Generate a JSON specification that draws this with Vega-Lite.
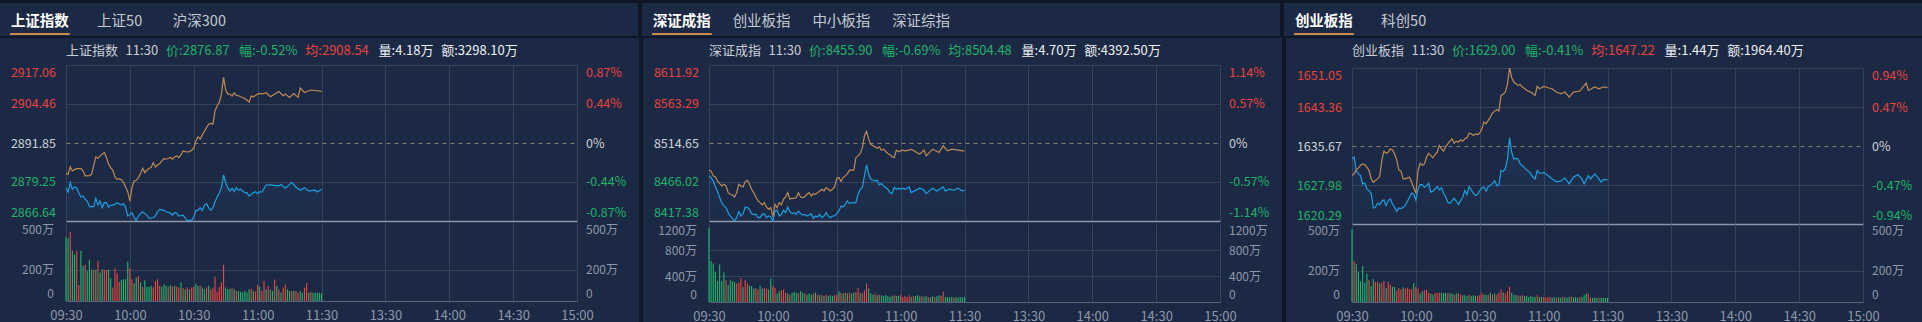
{
"$schema":"https://vega.github.io/schema/vega-lite/v6.json",
"background":"#1c2944","padding":0,
"config":{"view":{"stroke":null},"font":"Noto Sans CJK SC","concat":{"spacing":0},"axis":{"labelFont":"Noto Sans CJK SC"}},
"datasets":{
"none":[],
"t1":[{"tab":"上证指数","on":1},{"tab":"上证50","on":0},{"tab":"沪深300","on":0}],
"t2":[{"tab":"深证成指","on":1},{"tab":"创业板指","on":0},{"tab":"中小板指","on":0},{"tab":"深证综指","on":0}],
"t3":[{"tab":"创业板指","on":1},{"tab":"科创50","on":0}],
"i1":[{"k":"name","t":"上证指数","c":"n"},{"k":"time","t":"11:30","c":"n"},{"k":"price","t":"价:2876.87","c":"d"},{"k":"chg","t":"幅:-0.52%","c":"d"},{"k":"avg","t":"均:2908.54","c":"u"},{"k":"vol","t":"量:4.18万","c":"w"},{"k":"amt","t":"额:3298.10万","c":"w"}],
"i2":[{"k":"name","t":"深证成指","c":"n"},{"k":"time","t":"11:30","c":"n"},{"k":"price","t":"价:8455.90","c":"d"},{"k":"chg","t":"幅:-0.69%","c":"d"},{"k":"avg","t":"均:8504.48","c":"d"},{"k":"vol","t":"量:4.70万","c":"w"},{"k":"amt","t":"额:4392.50万","c":"w"}],
"i3":[{"k":"name","t":"创业板指","c":"n"},{"k":"time","t":"11:30","c":"n"},{"k":"price","t":"价:1629.00","c":"d"},{"k":"chg","t":"幅:-0.41%","c":"d"},{"k":"avg","t":"均:1647.22","c":"u"},{"k":"vol","t":"量:1.44万","c":"w"},{"k":"amt","t":"额:1964.40万","c":"w"}],
"p1":[{"m":0,"v":2877.42},{"m":1,"v":2876.02},{"m":2,"v":2879.04},{"m":3,"v":2876.88},{"m":4,"v":2877.64},{"m":5,"v":2877.42},{"m":6,"v":2875.8},{"m":7,"v":2874.4},{"m":8,"v":2874.72},{"m":9,"v":2873.64},{"m":10,"v":2873.1},{"m":11,"v":2871.26},{"m":12,"v":2871.26},{"m":13,"v":2871.26},{"m":14,"v":2873.96},{"m":15,"v":2871.8},{"m":16,"v":2873.1},{"m":17,"v":2870.94},{"m":18,"v":2872.56},{"m":19,"v":2872.56},{"m":20,"v":2871.16},{"m":21,"v":2871.7},{"m":23,"v":2872.02},{"m":24,"v":2872.56},{"m":26,"v":2871.8},{"m":27,"v":2872.24},{"m":28,"v":2871.16},{"m":29,"v":2868.24},{"m":30,"v":2868.78},{"m":31,"v":2869.32},{"m":32,"v":2867.7},{"m":33,"v":2866.84},{"m":34,"v":2868.24},{"m":35,"v":2869.0},{"m":36,"v":2869.64},{"m":38,"v":2868.56},{"m":39,"v":2867.48},{"m":41,"v":2867.7},{"m":42,"v":2868.24},{"m":43,"v":2869.64},{"m":44,"v":2870.4},{"m":46,"v":2870.08},{"m":47,"v":2869.64},{"m":49,"v":2869.21},{"m":50,"v":2868.56},{"m":51,"v":2869.32},{"m":52,"v":2869.21},{"m":53,"v":2868.24},{"m":55,"v":2868.56},{"m":56,"v":2867.48},{"m":57,"v":2866.84},{"m":58,"v":2866.84},{"m":59,"v":2866.84},{"m":60,"v":2867.92},{"m":61,"v":2870.08},{"m":62,"v":2870.08},{"m":63,"v":2870.94},{"m":64,"v":2870.08},{"m":65,"v":2871.8},{"m":66,"v":2872.24},{"m":67,"v":2870.94},{"m":68,"v":2870.08},{"m":69,"v":2870.94},{"m":70,"v":2872.88},{"m":71,"v":2874.4},{"m":72,"v":2875.8},{"m":73,"v":2877.42},{"m":74,"v":2881.52},{"m":75,"v":2879.04},{"m":76,"v":2877.42},{"m":77,"v":2876.34},{"m":78,"v":2877.2},{"m":79,"v":2876.12},{"m":80,"v":2877.42},{"m":81,"v":2876.56},{"m":82,"v":2876.88},{"m":83,"v":2876.34},{"m":84,"v":2875.8},{"m":85,"v":2875.8},{"m":86,"v":2874.72},{"m":87,"v":2875.26},{"m":88,"v":2875.8},{"m":89,"v":2876.12},{"m":90,"v":2875.48},{"m":91,"v":2876.12},{"m":92,"v":2876.02},{"m":94,"v":2878.28},{"m":96,"v":2878.3},{"m":100,"v":2877.98},{"m":101,"v":2878.53},{"m":103,"v":2877.23},{"m":106,"v":2879.05},{"m":108,"v":2877.65},{"m":110,"v":2876.58},{"m":112,"v":2877.43},{"m":114,"v":2876.36},{"m":117,"v":2876.58},{"m":118,"v":2876.03},{"m":120,"v":2876.87}],
"a1":[{"m":0,"v":2881.96},{"m":1,"v":2881.74},{"m":2,"v":2884.12},{"m":3,"v":2882.82},{"m":4,"v":2883.25},{"m":5,"v":2883.58},{"m":7,"v":2883.58},{"m":8,"v":2882.82},{"m":9,"v":2881.2},{"m":11,"v":2881.31},{"m":12,"v":2881.74},{"m":14,"v":2887.36},{"m":15,"v":2886.92},{"m":16,"v":2887.68},{"m":18,"v":2888.76},{"m":19,"v":2887.14},{"m":20,"v":2884.98},{"m":21,"v":2883.9},{"m":22,"v":2883.04},{"m":23,"v":2880.88},{"m":24,"v":2880.12},{"m":25,"v":2880.34},{"m":26,"v":2880.01},{"m":27,"v":2879.04},{"m":28,"v":2877.64},{"m":29,"v":2876.12},{"m":30,"v":2873.1},{"m":31,"v":2877.42},{"m":32,"v":2879.58},{"m":33,"v":2879.8},{"m":34,"v":2880.66},{"m":35,"v":2881.96},{"m":36,"v":2883.68},{"m":37,"v":2882.28},{"m":38,"v":2883.04},{"m":39,"v":2883.68},{"m":40,"v":2883.9},{"m":41,"v":2885.52},{"m":42,"v":2884.12},{"m":43,"v":2884.76},{"m":44,"v":2885.2},{"m":45,"v":2886.06},{"m":46,"v":2886.82},{"m":47,"v":2886.6},{"m":48,"v":2886.82},{"m":49,"v":2887.14},{"m":50,"v":2886.6},{"m":51,"v":2887.36},{"m":52,"v":2887.68},{"m":53,"v":2887.14},{"m":54,"v":2888.0},{"m":55,"v":2889.3},{"m":56,"v":2889.08},{"m":57,"v":2888.98},{"m":58,"v":2889.08},{"m":59,"v":2889.52},{"m":60,"v":2890.16},{"m":61,"v":2892.54},{"m":62,"v":2893.84},{"m":63,"v":2893.08},{"m":64,"v":2894.48},{"m":65,"v":2895.56},{"m":66,"v":2896.86},{"m":67,"v":2897.94},{"m":68,"v":2898.16},{"m":69,"v":2897.94},{"m":70,"v":2902.26},{"m":71,"v":2903.88},{"m":72,"v":2904.96},{"m":73,"v":2907.66},{"m":74,"v":2913.06},{"m":75,"v":2908.96},{"m":76,"v":2907.66},{"m":77,"v":2907.66},{"m":78,"v":2907.01},{"m":79,"v":2908.09},{"m":80,"v":2907.23},{"m":81,"v":2907.12},{"m":82,"v":2906.8},{"m":83,"v":2906.58},{"m":84,"v":2906.15},{"m":85,"v":2905.72},{"m":86,"v":2905.07},{"m":87,"v":2907.01},{"m":88,"v":2906.8},{"m":89,"v":2907.23},{"m":90,"v":2907.66},{"m":91,"v":2907.88},{"m":92,"v":2907.66},{"m":94,"v":2908.09},{"m":96,"v":2906.8},{"m":100,"v":2908.51},{"m":102,"v":2907.12},{"m":103,"v":2907.67},{"m":105,"v":2906.57},{"m":107,"v":2907.86},{"m":109,"v":2906.57},{"m":110,"v":2909.61},{"m":112,"v":2908.19},{"m":115,"v":2908.97},{"m":118,"v":2908.74},{"m":120,"v":2908.54}],
"v1":[{"m":0,"v":412,"d":"d"},{"m":1,"v":403,"d":"d"},{"m":2,"v":444,"d":"u"},{"m":3,"v":322,"d":"d"},{"m":4,"v":296,"d":"d"},{"m":5,"v":322,"d":"u"},{"m":6,"v":103,"d":"u"},{"m":7,"v":322,"d":"d"},{"m":8,"v":225,"d":"d"},{"m":9,"v":232,"d":"u"},{"m":10,"v":193,"d":"d"},{"m":11,"v":264,"d":"d"},{"m":12,"v":200,"d":"d"},{"m":13,"v":200,"d":"u"},{"m":14,"v":200,"d":"d"},{"m":15,"v":258,"d":"u"},{"m":16,"v":182,"d":"d"},{"m":17,"v":204,"d":"d"},{"m":18,"v":200,"d":"u"},{"m":19,"v":200,"d":"u"},{"m":20,"v":200,"d":"d"},{"m":21,"v":146,"d":"d"},{"m":22,"v":86,"d":"u"},{"m":23,"v":208,"d":"u"},{"m":24,"v":178,"d":"u"},{"m":25,"v":124,"d":"u"},{"m":26,"v":133,"d":"d"},{"m":27,"v":139,"d":"d"},{"m":28,"v":139,"d":"d"},{"m":29,"v":253,"d":"d"},{"m":30,"v":210,"d":"u"},{"m":31,"v":139,"d":"u"},{"m":32,"v":114,"d":"d"},{"m":33,"v":150,"d":"d"},{"m":34,"v":161,"d":"u"},{"m":35,"v":118,"d":"d"},{"m":36,"v":90,"d":"u"},{"m":37,"v":133,"d":"d"},{"m":38,"v":90,"d":"d"},{"m":39,"v":92,"d":"d"},{"m":40,"v":97,"d":"d"},{"m":41,"v":86,"d":"u"},{"m":42,"v":129,"d":"u"},{"m":43,"v":139,"d":"u"},{"m":44,"v":97,"d":"u"},{"m":45,"v":90,"d":"d"},{"m":46,"v":107,"d":"d"},{"m":47,"v":97,"d":"d"},{"m":48,"v":92,"d":"u"},{"m":49,"v":101,"d":"d"},{"m":50,"v":92,"d":"u"},{"m":51,"v":97,"d":"d"},{"m":52,"v":92,"d":"u"},{"m":53,"v":86,"d":"u"},{"m":54,"v":118,"d":"d"},{"m":55,"v":82,"d":"u"},{"m":56,"v":75,"d":"d"},{"m":57,"v":86,"d":"u"},{"m":58,"v":75,"d":"d"},{"m":59,"v":86,"d":"u"},{"m":60,"v":90,"d":"u"},{"m":61,"v":107,"d":"d"},{"m":62,"v":97,"d":"d"},{"m":63,"v":97,"d":"u"},{"m":64,"v":86,"d":"d"},{"m":65,"v":75,"d":"d"},{"m":66,"v":86,"d":"u"},{"m":67,"v":97,"d":"d"},{"m":68,"v":75,"d":"u"},{"m":69,"v":86,"d":"u"},{"m":70,"v":155,"d":"u"},{"m":71,"v":60,"d":"u"},{"m":72,"v":90,"d":"u"},{"m":73,"v":118,"d":"u"},{"m":74,"v":232,"d":"u"},{"m":75,"v":86,"d":"d"},{"m":76,"v":75,"d":"d"},{"m":77,"v":79,"d":"d"},{"m":78,"v":82,"d":"u"},{"m":79,"v":75,"d":"d"},{"m":80,"v":64,"d":"u"},{"m":81,"v":64,"d":"d"},{"m":82,"v":60,"d":"d"},{"m":83,"v":54,"d":"d"},{"m":84,"v":64,"d":"d"},{"m":85,"v":54,"d":"d"},{"m":86,"v":75,"d":"d"},{"m":87,"v":79,"d":"u"},{"m":88,"v":64,"d":"d"},{"m":89,"v":60,"d":"u"},{"m":90,"v":103,"d":"u"},{"m":91,"v":92,"d":"d"},{"m":92,"v":64,"d":"u"},{"m":93,"v":129,"d":"u"},{"m":94,"v":75,"d":"d"},{"m":95,"v":96,"d":"u"},{"m":96,"v":74,"d":"d"},{"m":97,"v":64,"d":"d"},{"m":98,"v":138,"d":"u"},{"m":99,"v":96,"d":"d"},{"m":100,"v":74,"d":"u"},{"m":101,"v":53,"d":"d"},{"m":102,"v":85,"d":"u"},{"m":103,"v":106,"d":"u"},{"m":104,"v":74,"d":"d"},{"m":105,"v":64,"d":"d"},{"m":106,"v":64,"d":"u"},{"m":107,"v":64,"d":"d"},{"m":108,"v":64,"d":"u"},{"m":109,"v":53,"d":"u"},{"m":110,"v":64,"d":"d"},{"m":111,"v":53,"d":"d"},{"m":112,"v":85,"d":"u"},{"m":113,"v":113,"d":"u"},{"m":114,"v":53,"d":"d"},{"m":115,"v":57,"d":"u"},{"m":116,"v":53,"d":"d"},{"m":117,"v":53,"d":"d"},{"m":118,"v":53,"d":"d"},{"m":119,"v":53,"d":"d"},{"m":120,"v":49,"d":"d"}],
"p2":[{"m":0,"v":8473.62},{"m":1,"v":8471.54},{"m":2,"v":8467.37},{"m":3,"v":8459.88},{"m":4,"v":8454.05},{"m":5,"v":8446.55},{"m":6,"v":8440.3},{"m":7,"v":8436.13},{"m":8,"v":8434.05},{"m":9,"v":8427.8},{"m":10,"v":8423.63},{"m":11,"v":8420.72},{"m":12,"v":8417.38},{"m":13,"v":8421.55},{"m":14,"v":8429.05},{"m":15,"v":8423.63},{"m":16,"v":8426.55},{"m":17,"v":8434.88},{"m":18,"v":8434.05},{"m":19,"v":8431.96},{"m":20,"v":8426.55},{"m":21,"v":8425.72},{"m":22,"v":8425.72},{"m":23,"v":8421.55},{"m":24,"v":8421.55},{"m":25,"v":8425.72},{"m":26,"v":8426.55},{"m":27,"v":8421.55},{"m":28,"v":8423.63},{"m":29,"v":8422.38},{"m":30,"v":8417.38},{"m":31,"v":8429.88},{"m":32,"v":8430.72},{"m":33,"v":8423.63},{"m":34,"v":8425.72},{"m":35,"v":8430.72},{"m":36,"v":8427.8},{"m":37,"v":8434.88},{"m":38,"v":8429.05},{"m":39,"v":8426.55},{"m":40,"v":8427.8},{"m":41,"v":8425.72},{"m":42,"v":8429.88},{"m":43,"v":8426.55},{"m":44,"v":8424.88},{"m":45,"v":8425.72},{"m":46,"v":8423.63},{"m":47,"v":8424.88},{"m":48,"v":8426.55},{"m":49,"v":8420.72},{"m":50,"v":8423.63},{"m":51,"v":8422.38},{"m":52,"v":8425.72},{"m":53,"v":8421.55},{"m":54,"v":8423.63},{"m":55,"v":8427.8},{"m":56,"v":8423.63},{"m":57,"v":8421.55},{"m":58,"v":8423.63},{"m":59,"v":8423.63},{"m":60,"v":8426.55},{"m":61,"v":8429.88},{"m":62,"v":8436.13},{"m":63,"v":8434.88},{"m":64,"v":8438.22},{"m":65,"v":8442.38},{"m":66,"v":8439.05},{"m":67,"v":8440.3},{"m":68,"v":8440.3},{"m":69,"v":8440.3},{"m":70,"v":8450.71},{"m":71,"v":8456.96},{"m":72,"v":8459.04},{"m":73,"v":8473.62},{"m":74,"v":8487.37},{"m":75,"v":8475.71},{"m":76,"v":8469.46},{"m":77,"v":8468.21},{"m":78,"v":8467.37},{"m":79,"v":8468.21},{"m":80,"v":8462.38},{"m":81,"v":8464.04},{"m":82,"v":8461.13},{"m":83,"v":8459.04},{"m":84,"v":8456.96},{"m":85,"v":8452.8},{"m":86,"v":8451.55},{"m":87,"v":8459.04},{"m":88,"v":8456.96},{"m":89,"v":8458.21},{"m":90,"v":8456.96},{"m":91,"v":8458.21},{"m":92,"v":8456.96},{"m":94,"v":8459.88},{"m":95,"v":8452.75},{"m":99,"v":8458.25},{"m":101,"v":8456.12},{"m":102,"v":8451.5},{"m":105,"v":8458.25},{"m":107,"v":8454.87},{"m":110,"v":8459.87},{"m":111,"v":8454.87},{"m":113,"v":8457.0},{"m":115,"v":8455.75},{"m":117,"v":8458.25},{"m":119,"v":8454.87},{"m":120,"v":8455.9}],
"a2":[{"m":0,"v":8480.71},{"m":1,"v":8479.87},{"m":2,"v":8473.62},{"m":3,"v":8472.37},{"m":4,"v":8467.37},{"m":5,"v":8464.04},{"m":6,"v":8461.13},{"m":7,"v":8463.21},{"m":8,"v":8461.13},{"m":9,"v":8452.8},{"m":10,"v":8450.71},{"m":11,"v":8449.88},{"m":12,"v":8447.38},{"m":13,"v":8452.8},{"m":14,"v":8463.21},{"m":15,"v":8461.13},{"m":16,"v":8459.88},{"m":17,"v":8466.54},{"m":18,"v":8468.21},{"m":19,"v":8463.21},{"m":20,"v":8456.96},{"m":21,"v":8452.8},{"m":22,"v":8447.38},{"m":23,"v":8442.38},{"m":24,"v":8440.3},{"m":25,"v":8437.38},{"m":26,"v":8440.3},{"m":27,"v":8434.88},{"m":28,"v":8431.96},{"m":29,"v":8434.05},{"m":30,"v":8422.39},{"m":31,"v":8438.22},{"m":32,"v":8434.05},{"m":33,"v":8440.3},{"m":34,"v":8437.38},{"m":35,"v":8444.46},{"m":36,"v":8447.38},{"m":37,"v":8452.8},{"m":38,"v":8444.46},{"m":39,"v":8445.71},{"m":40,"v":8445.71},{"m":41,"v":8446.55},{"m":42,"v":8452.8},{"m":43,"v":8447.38},{"m":44,"v":8446.55},{"m":45,"v":8447.38},{"m":46,"v":8450.71},{"m":47,"v":8452.8},{"m":48,"v":8448.63},{"m":49,"v":8451.55},{"m":50,"v":8450.71},{"m":51,"v":8452.8},{"m":52,"v":8454.88},{"m":53,"v":8456.96},{"m":54,"v":8454.88},{"m":55,"v":8459.04},{"m":56,"v":8456.96},{"m":57,"v":8454.88},{"m":58,"v":8456.96},{"m":59,"v":8459.88},{"m":60,"v":8470.71},{"m":61,"v":8471.54},{"m":62,"v":8466.54},{"m":63,"v":8471.54},{"m":64,"v":8473.62},{"m":65,"v":8476.54},{"m":66,"v":8480.71},{"m":67,"v":8480.71},{"m":68,"v":8480.71},{"m":69,"v":8496.53},{"m":70,"v":8498.62},{"m":71,"v":8501.53},{"m":72,"v":8508.2},{"m":73,"v":8523.62},{"m":74,"v":8529.03},{"m":75,"v":8519.45},{"m":76,"v":8513.2},{"m":77,"v":8511.12},{"m":78,"v":8509.87},{"m":79,"v":8508.2},{"m":80,"v":8509.87},{"m":81,"v":8505.7},{"m":82,"v":8506.95},{"m":83,"v":8504.03},{"m":84,"v":8501.53},{"m":85,"v":8499.87},{"m":86,"v":8497.37},{"m":87,"v":8496.53},{"m":88,"v":8505.7},{"m":89,"v":8504.03},{"m":90,"v":8504.87},{"m":91,"v":8505.7},{"m":92,"v":8504.87},{"m":94,"v":8505.7},{"m":95,"v":8506.97},{"m":99,"v":8500.72},{"m":101,"v":8505.72},{"m":102,"v":8498.6},{"m":105,"v":8506.97},{"m":108,"v":8502.72},{"m":110,"v":8511.09},{"m":112,"v":8504.85},{"m":114,"v":8506.97},{"m":117,"v":8505.72},{"m":120,"v":8504.48}],
"v2":[{"m":0,"v":1143,"d":"d"},{"m":1,"v":628,"d":"d"},{"m":2,"v":592,"d":"d"},{"m":3,"v":464,"d":"d"},{"m":4,"v":324,"d":"d"},{"m":5,"v":577,"d":"d"},{"m":6,"v":319,"d":"d"},{"m":7,"v":453,"d":"d"},{"m":8,"v":335,"d":"u"},{"m":9,"v":258,"d":"d"},{"m":10,"v":335,"d":"d"},{"m":11,"v":319,"d":"d"},{"m":12,"v":309,"d":"d"},{"m":13,"v":283,"d":"u"},{"m":14,"v":299,"d":"u"},{"m":15,"v":371,"d":"u"},{"m":16,"v":232,"d":"d"},{"m":17,"v":335,"d":"u"},{"m":18,"v":283,"d":"u"},{"m":19,"v":247,"d":"d"},{"m":20,"v":247,"d":"d"},{"m":21,"v":206,"d":"d"},{"m":22,"v":216,"d":"u"},{"m":23,"v":191,"d":"u"},{"m":24,"v":247,"d":"d"},{"m":25,"v":206,"d":"d"},{"m":26,"v":216,"d":"u"},{"m":27,"v":206,"d":"u"},{"m":28,"v":191,"d":"d"},{"m":29,"v":360,"d":"d"},{"m":30,"v":242,"d":"u"},{"m":31,"v":216,"d":"u"},{"m":32,"v":129,"d":"d"},{"m":33,"v":165,"d":"d"},{"m":34,"v":180,"d":"u"},{"m":35,"v":191,"d":"u"},{"m":36,"v":144,"d":"u"},{"m":37,"v":129,"d":"d"},{"m":38,"v":113,"d":"u"},{"m":39,"v":144,"d":"d"},{"m":40,"v":155,"d":"d"},{"m":41,"v":144,"d":"d"},{"m":42,"v":129,"d":"u"},{"m":43,"v":165,"d":"d"},{"m":44,"v":144,"d":"d"},{"m":45,"v":129,"d":"u"},{"m":46,"v":113,"d":"d"},{"m":47,"v":129,"d":"d"},{"m":48,"v":113,"d":"d"},{"m":49,"v":129,"d":"u"},{"m":50,"v":144,"d":"d"},{"m":51,"v":113,"d":"u"},{"m":52,"v":103,"d":"d"},{"m":53,"v":103,"d":"u"},{"m":54,"v":93,"d":"d"},{"m":55,"v":113,"d":"u"},{"m":56,"v":93,"d":"d"},{"m":57,"v":103,"d":"d"},{"m":58,"v":93,"d":"d"},{"m":59,"v":103,"d":"u"},{"m":60,"v":113,"d":"u"},{"m":61,"v":165,"d":"d"},{"m":62,"v":144,"d":"u"},{"m":63,"v":129,"d":"d"},{"m":64,"v":144,"d":"u"},{"m":65,"v":129,"d":"d"},{"m":66,"v":144,"d":"u"},{"m":67,"v":129,"d":"d"},{"m":68,"v":144,"d":"d"},{"m":69,"v":155,"d":"u"},{"m":70,"v":216,"d":"u"},{"m":71,"v":144,"d":"d"},{"m":72,"v":129,"d":"u"},{"m":73,"v":180,"d":"u"},{"m":74,"v":283,"d":"u"},{"m":75,"v":206,"d":"d"},{"m":76,"v":129,"d":"d"},{"m":77,"v":113,"d":"d"},{"m":78,"v":129,"d":"u"},{"m":79,"v":103,"d":"d"},{"m":80,"v":113,"d":"u"},{"m":81,"v":103,"d":"d"},{"m":82,"v":93,"d":"d"},{"m":83,"v":103,"d":"d"},{"m":84,"v":93,"d":"d"},{"m":85,"v":77,"d":"d"},{"m":86,"v":93,"d":"d"},{"m":87,"v":103,"d":"u"},{"m":88,"v":93,"d":"d"},{"m":89,"v":93,"d":"d"},{"m":90,"v":113,"d":"u"},{"m":91,"v":77,"d":"u"},{"m":92,"v":93,"d":"u"},{"m":93,"v":77,"d":"u"},{"m":94,"v":104,"d":"u"},{"m":95,"v":78,"d":"d"},{"m":96,"v":88,"d":"u"},{"m":97,"v":93,"d":"d"},{"m":98,"v":104,"d":"d"},{"m":99,"v":88,"d":"d"},{"m":100,"v":88,"d":"u"},{"m":101,"v":78,"d":"d"},{"m":102,"v":88,"d":"d"},{"m":103,"v":78,"d":"u"},{"m":104,"v":68,"d":"d"},{"m":105,"v":88,"d":"d"},{"m":106,"v":78,"d":"u"},{"m":107,"v":88,"d":"d"},{"m":108,"v":104,"d":"d"},{"m":109,"v":93,"d":"u"},{"m":110,"v":156,"d":"u"},{"m":111,"v":78,"d":"d"},{"m":112,"v":78,"d":"d"},{"m":113,"v":68,"d":"d"},{"m":114,"v":78,"d":"d"},{"m":115,"v":68,"d":"u"},{"m":116,"v":78,"d":"d"},{"m":117,"v":68,"d":"d"},{"m":118,"v":78,"d":"d"},{"m":119,"v":68,"d":"d"},{"m":120,"v":78,"d":"d"}],
"p3":[{"m":0,"v":1633.13},{"m":1,"v":1633.46},{"m":2,"v":1630.83},{"m":3,"v":1630.17},{"m":4,"v":1629.84},{"m":5,"v":1628.19},{"m":6,"v":1628.32},{"m":7,"v":1627.21},{"m":8,"v":1626.88},{"m":9,"v":1626.35},{"m":10,"v":1623.45},{"m":11,"v":1623.58},{"m":12,"v":1624.37},{"m":13,"v":1624.11},{"m":14,"v":1624.77},{"m":15,"v":1625.03},{"m":16,"v":1623.91},{"m":17,"v":1624.9},{"m":18,"v":1625.23},{"m":19,"v":1624.24},{"m":20,"v":1623.58},{"m":21,"v":1622.79},{"m":22,"v":1623.45},{"m":23,"v":1623.32},{"m":24,"v":1623.58},{"m":25,"v":1623.91},{"m":26,"v":1624.77},{"m":27,"v":1625.56},{"m":28,"v":1626.35},{"m":29,"v":1626.22},{"m":30,"v":1625.03},{"m":31,"v":1627.21},{"m":32,"v":1628.06},{"m":33,"v":1628.06},{"m":34,"v":1627.53},{"m":35,"v":1627.86},{"m":36,"v":1628.32},{"m":37,"v":1626.55},{"m":38,"v":1626.75},{"m":39,"v":1627.21},{"m":40,"v":1627.67},{"m":41,"v":1627.01},{"m":42,"v":1627.41},{"m":43,"v":1626.35},{"m":44,"v":1625.69},{"m":45,"v":1624.57},{"m":46,"v":1624.37},{"m":47,"v":1624.9},{"m":48,"v":1625.36},{"m":49,"v":1624.77},{"m":50,"v":1624.11},{"m":51,"v":1624.9},{"m":52,"v":1625.56},{"m":53,"v":1626.88},{"m":54,"v":1626.09},{"m":55,"v":1627.67},{"m":56,"v":1627.01},{"m":57,"v":1626.35},{"m":58,"v":1625.89},{"m":59,"v":1626.09},{"m":60,"v":1626.88},{"m":61,"v":1627.41},{"m":62,"v":1627.53},{"m":63,"v":1626.75},{"m":64,"v":1627.67},{"m":65,"v":1627.86},{"m":66,"v":1628.32},{"m":67,"v":1628.85},{"m":68,"v":1627.86},{"m":69,"v":1628.06},{"m":70,"v":1630.83},{"m":71,"v":1630.7},{"m":72,"v":1631.16},{"m":73,"v":1633.13},{"m":74,"v":1637.28},{"m":75,"v":1634.45},{"m":76,"v":1633.13},{"m":77,"v":1633.27},{"m":78,"v":1633.13},{"m":79,"v":1632.15},{"m":80,"v":1631.82},{"m":81,"v":1631.36},{"m":82,"v":1630.96},{"m":83,"v":1630.7},{"m":84,"v":1630.17},{"m":85,"v":1629.51},{"m":86,"v":1629.18},{"m":87,"v":1630.83},{"m":88,"v":1630.3},{"m":89,"v":1630.3},{"m":90,"v":1630.5},{"m":91,"v":1630.17},{"m":92,"v":1629.84},{"m":94,"v":1629.18},{"m":96,"v":1628.6},{"m":98,"v":1628.73},{"m":100,"v":1629.38},{"m":102,"v":1628.19},{"m":104,"v":1629.52},{"m":106,"v":1630.03},{"m":108,"v":1629.18},{"m":109,"v":1628.19},{"m":111,"v":1629.83},{"m":112,"v":1629.18},{"m":114,"v":1630.17},{"m":116,"v":1629.18},{"m":117,"v":1628.53},{"m":118,"v":1629.1},{"m":120,"v":1629.0}],
"a3":[{"m":0,"v":1629.84},{"m":1,"v":1630.17},{"m":2,"v":1630.96},{"m":3,"v":1631.36},{"m":4,"v":1631.82},{"m":5,"v":1632.15},{"m":6,"v":1632.01},{"m":7,"v":1631.49},{"m":8,"v":1630.83},{"m":9,"v":1629.18},{"m":10,"v":1628.52},{"m":11,"v":1628.85},{"m":12,"v":1629.18},{"m":13,"v":1629.64},{"m":14,"v":1632.81},{"m":15,"v":1634.65},{"m":16,"v":1634.25},{"m":17,"v":1634.45},{"m":18,"v":1635.11},{"m":19,"v":1634.91},{"m":20,"v":1634.12},{"m":21,"v":1632.94},{"m":22,"v":1630.96},{"m":23,"v":1630.7},{"m":24,"v":1629.18},{"m":25,"v":1629.18},{"m":26,"v":1629.38},{"m":27,"v":1629.51},{"m":28,"v":1628.52},{"m":29,"v":1627.4},{"m":30,"v":1626.35},{"m":31,"v":1630.83},{"m":32,"v":1632.28},{"m":33,"v":1631.82},{"m":34,"v":1632.15},{"m":35,"v":1633.46},{"m":36,"v":1634.25},{"m":37,"v":1633.79},{"m":38,"v":1633.33},{"m":39,"v":1633.99},{"m":40,"v":1634.45},{"m":41,"v":1635.77},{"m":42,"v":1635.11},{"m":43,"v":1634.65},{"m":44,"v":1635.57},{"m":45,"v":1636.1},{"m":46,"v":1636.63},{"m":47,"v":1637.09},{"m":48,"v":1636.23},{"m":49,"v":1636.63},{"m":50,"v":1636.43},{"m":51,"v":1636.89},{"m":52,"v":1636.63},{"m":53,"v":1637.09},{"m":54,"v":1637.28},{"m":55,"v":1638.21},{"m":56,"v":1638.07},{"m":57,"v":1637.75},{"m":58,"v":1638.07},{"m":59,"v":1637.94},{"m":60,"v":1638.21},{"m":61,"v":1639.06},{"m":62,"v":1640.38},{"m":63,"v":1640.05},{"m":64,"v":1640.71},{"m":65,"v":1641.37},{"m":66,"v":1642.16},{"m":67,"v":1642.55},{"m":68,"v":1642.82},{"m":69,"v":1642.55},{"m":70,"v":1645.65},{"m":71,"v":1645.85},{"m":72,"v":1646.31},{"m":73,"v":1647.82},{"m":74,"v":1651.05},{"m":75,"v":1649.14},{"m":76,"v":1648.28},{"m":77,"v":1647.95},{"m":78,"v":1647.62},{"m":79,"v":1647.82},{"m":80,"v":1647.3},{"m":81,"v":1647.03},{"m":82,"v":1646.64},{"m":83,"v":1646.44},{"m":84,"v":1646.31},{"m":85,"v":1645.98},{"m":86,"v":1645.65},{"m":87,"v":1647.43},{"m":88,"v":1646.97},{"m":89,"v":1647.16},{"m":90,"v":1647.43},{"m":91,"v":1647.3},{"m":92,"v":1647.16},{"m":94,"v":1646.97},{"m":96,"v":1646.3},{"m":98,"v":1645.97},{"m":100,"v":1646.31},{"m":102,"v":1645.32},{"m":104,"v":1646.31},{"m":107,"v":1646.51},{"m":110,"v":1648.09},{"m":111,"v":1646.63},{"m":114,"v":1647.3},{"m":116,"v":1646.96},{"m":118,"v":1647.3},{"m":120,"v":1647.22}],
"v3":[{"m":0,"v":468,"d":"d"},{"m":1,"v":262,"d":"u"},{"m":2,"v":243,"d":"d"},{"m":3,"v":193,"d":"d"},{"m":4,"v":133,"d":"d"},{"m":5,"v":230,"d":"d"},{"m":6,"v":124,"d":"d"},{"m":7,"v":182,"d":"d"},{"m":8,"v":139,"d":"u"},{"m":9,"v":103,"d":"d"},{"m":10,"v":146,"d":"d"},{"m":11,"v":129,"d":"u"},{"m":12,"v":129,"d":"u"},{"m":13,"v":118,"d":"d"},{"m":14,"v":124,"d":"u"},{"m":15,"v":135,"d":"u"},{"m":16,"v":90,"d":"d"},{"m":17,"v":129,"d":"u"},{"m":18,"v":112,"d":"u"},{"m":19,"v":97,"d":"d"},{"m":20,"v":97,"d":"d"},{"m":21,"v":75,"d":"u"},{"m":22,"v":90,"d":"u"},{"m":23,"v":82,"d":"u"},{"m":24,"v":94,"d":"d"},{"m":25,"v":86,"d":"u"},{"m":26,"v":92,"d":"u"},{"m":27,"v":82,"d":"u"},{"m":28,"v":82,"d":"u"},{"m":29,"v":122,"d":"d"},{"m":30,"v":97,"d":"u"},{"m":31,"v":86,"d":"u"},{"m":32,"v":54,"d":"d"},{"m":33,"v":69,"d":"d"},{"m":34,"v":75,"d":"u"},{"m":35,"v":79,"d":"u"},{"m":36,"v":60,"d":"u"},{"m":37,"v":54,"d":"d"},{"m":38,"v":47,"d":"d"},{"m":39,"v":58,"d":"u"},{"m":40,"v":60,"d":"u"},{"m":41,"v":60,"d":"u"},{"m":42,"v":60,"d":"d"},{"m":43,"v":58,"d":"d"},{"m":44,"v":60,"d":"d"},{"m":45,"v":54,"d":"u"},{"m":46,"v":54,"d":"d"},{"m":47,"v":54,"d":"d"},{"m":48,"v":47,"d":"u"},{"m":49,"v":54,"d":"d"},{"m":50,"v":54,"d":"u"},{"m":51,"v":47,"d":"u"},{"m":52,"v":43,"d":"d"},{"m":53,"v":43,"d":"d"},{"m":54,"v":39,"d":"d"},{"m":55,"v":47,"d":"u"},{"m":56,"v":39,"d":"d"},{"m":57,"v":43,"d":"d"},{"m":58,"v":39,"d":"d"},{"m":59,"v":39,"d":"u"},{"m":60,"v":43,"d":"u"},{"m":61,"v":60,"d":"u"},{"m":62,"v":47,"d":"d"},{"m":63,"v":47,"d":"d"},{"m":64,"v":47,"d":"u"},{"m":65,"v":60,"d":"d"},{"m":66,"v":47,"d":"u"},{"m":67,"v":54,"d":"d"},{"m":68,"v":47,"d":"u"},{"m":69,"v":60,"d":"u"},{"m":70,"v":79,"d":"u"},{"m":71,"v":60,"d":"d"},{"m":72,"v":54,"d":"u"},{"m":73,"v":69,"d":"u"},{"m":74,"v":97,"d":"u"},{"m":75,"v":60,"d":"d"},{"m":76,"v":47,"d":"d"},{"m":77,"v":43,"d":"d"},{"m":78,"v":43,"d":"u"},{"m":79,"v":39,"d":"d"},{"m":80,"v":43,"d":"u"},{"m":81,"v":39,"d":"d"},{"m":82,"v":39,"d":"d"},{"m":83,"v":32,"d":"d"},{"m":84,"v":39,"d":"d"},{"m":85,"v":32,"d":"d"},{"m":86,"v":32,"d":"d"},{"m":87,"v":43,"d":"u"},{"m":88,"v":32,"d":"d"},{"m":89,"v":32,"d":"d"},{"m":90,"v":32,"d":"u"},{"m":91,"v":26,"d":"u"},{"m":92,"v":32,"d":"u"},{"m":93,"v":32,"d":"u"},{"m":94,"v":28,"d":"d"},{"m":95,"v":32,"d":"d"},{"m":96,"v":28,"d":"u"},{"m":97,"v":32,"d":"d"},{"m":98,"v":28,"d":"d"},{"m":99,"v":32,"d":"u"},{"m":100,"v":32,"d":"d"},{"m":101,"v":28,"d":"d"},{"m":102,"v":32,"d":"d"},{"m":103,"v":36,"d":"u"},{"m":104,"v":28,"d":"d"},{"m":105,"v":32,"d":"d"},{"m":106,"v":28,"d":"d"},{"m":107,"v":32,"d":"u"},{"m":108,"v":32,"d":"d"},{"m":109,"v":43,"d":"d"},{"m":110,"v":53,"d":"d"},{"m":111,"v":53,"d":"u"},{"m":112,"v":28,"d":"u"},{"m":113,"v":28,"d":"d"},{"m":114,"v":28,"d":"d"},{"m":115,"v":28,"d":"d"},{"m":116,"v":28,"d":"u"},{"m":117,"v":28,"d":"d"},{"m":118,"v":28,"d":"d"},{"m":119,"v":26,"d":"d"},{"m":120,"v":28,"d":"d"}]
},
"spacing":0,
"vconcat":[
{"width":1922,"height":3,"view":{"fill":"#0f1625"},"data":{"name":"none"},"mark":"text","encoding":{"text":{"value":""}}},
{"hconcat":[
 {"vconcat":[
  {"width":638,"height":29.5,"data":{"name":"t1"},"layer":[
   {"transform":[{"filter":"datum.on==1"}],"mark":{"type":"text","fontSize":14.5,"fontWeight":"bold","color":"#ffffff","baseline":"middle","dy":4},"encoding":{"x":{"field":"tab","type":"nominal","sort":null,"scale":{"type":"band","domain":["上证指数","上证50","沪深300","s4","s5","s6","s7","s8"],"paddingInner":0,"paddingOuter":0},"axis":null},"text":{"field":"tab"}}},
   {"transform":[{"filter":"datum.on==0"}],"mark":{"type":"text","fontSize":14.5,"color":"#c3c9d3","baseline":"middle","dy":4},"encoding":{"x":{"field":"tab","type":"nominal","sort":null},"text":{"field":"tab"}}}]},
  {"width":638,"height":2,"data":{"name":"t1"},"transform":[{"filter":"datum.on==1"}],"mark":{"type":"rect","color":"#c98a4b","width":{"band":0.75}},"encoding":{"x":{"field":"tab","type":"nominal","sort":null,"scale":{"type":"band","domain":["上证指数","上证50","沪深300","s4","s5","s6","s7","s8"],"paddingInner":0,"paddingOuter":0},"axis":null}}},
  {"width":638,"height":1,"data":{"name":"none"},"mark":"text","encoding":{"text":{"value":""}}},
  {"width":638,"height":2,"view":{"fill":"#0f1625"},"data":{"name":"none"},"mark":"text","encoding":{"text":{"value":""}}}
 ],"spacing":0},
 {"width":4,"height":34.5,"view":{"fill":"#0f1625"},"data":{"name":"none"},"mark":"text","encoding":{"text":{"value":""}}},
 {"vconcat":[
  {"width":638,"height":29.5,"data":{"name":"t2"},"layer":[
   {"transform":[{"filter":"datum.on==1"}],"mark":{"type":"text","fontSize":14.5,"fontWeight":"bold","color":"#ffffff","baseline":"middle","dy":4},"encoding":{"x":{"field":"tab","type":"nominal","sort":null,"scale":{"type":"band","domain":["深证成指","创业板指","中小板指","深证综指","s5","s6","s7","s8"],"paddingInner":0,"paddingOuter":0},"axis":null},"text":{"field":"tab"}}},
   {"transform":[{"filter":"datum.on==0"}],"mark":{"type":"text","fontSize":14.5,"color":"#c3c9d3","baseline":"middle","dy":4},"encoding":{"x":{"field":"tab","type":"nominal","sort":null},"text":{"field":"tab"}}}]},
  {"width":638,"height":2,"data":{"name":"t2"},"transform":[{"filter":"datum.on==1"}],"mark":{"type":"rect","color":"#c98a4b","width":{"band":0.75}},"encoding":{"x":{"field":"tab","type":"nominal","sort":null,"scale":{"type":"band","domain":["深证成指","创业板指","中小板指","深证综指","s5","s6","s7","s8"],"paddingInner":0,"paddingOuter":0},"axis":null}}},
  {"width":638,"height":1,"data":{"name":"none"},"mark":"text","encoding":{"text":{"value":""}}},
  {"width":638,"height":2,"view":{"fill":"#0f1625"},"data":{"name":"none"},"mark":"text","encoding":{"text":{"value":""}}}
 ],"spacing":0},
 {"width":4,"height":34.5,"view":{"fill":"#0f1625"},"data":{"name":"none"},"mark":"text","encoding":{"text":{"value":""}}},
 {"vconcat":[
  {"width":638,"height":29.5,"data":{"name":"t3"},"layer":[
   {"transform":[{"filter":"datum.on==1"}],"mark":{"type":"text","fontSize":14.5,"fontWeight":"bold","color":"#ffffff","baseline":"middle","dy":4},"encoding":{"x":{"field":"tab","type":"nominal","sort":null,"scale":{"type":"band","domain":["创业板指","科创50","s3","s4","s5","s6","s7","s8"],"paddingInner":0,"paddingOuter":0},"axis":null},"text":{"field":"tab"}}},
   {"transform":[{"filter":"datum.on==0"}],"mark":{"type":"text","fontSize":14.5,"color":"#c3c9d3","baseline":"middle","dy":4},"encoding":{"x":{"field":"tab","type":"nominal","sort":null},"text":{"field":"tab"}}}]},
  {"width":638,"height":2,"data":{"name":"t3"},"transform":[{"filter":"datum.on==1"}],"mark":{"type":"rect","color":"#c98a4b","width":{"band":0.75}},"encoding":{"x":{"field":"tab","type":"nominal","sort":null,"scale":{"type":"band","domain":["创业板指","科创50","s3","s4","s5","s6","s7","s8"],"paddingInner":0,"paddingOuter":0},"axis":null}}},
  {"width":638,"height":1,"data":{"name":"none"},"mark":"text","encoding":{"text":{"value":""}}},
  {"width":638,"height":2,"view":{"fill":"#0f1625"},"data":{"name":"none"},"mark":"text","encoding":{"text":{"value":""}}}
 ],"spacing":0}
],"spacing":0},
{"hconcat":[
 {"width":7.5,"height":10,"data":{"name":"none"},"mark":"text","encoding":{"text":{"value":""}}},
 {"vconcat":[
  {"width":511,"height":26.5,"data":{"name":"i1"},"layer":[
   {"transform":[{"filter":"datum.k=='name'"}],"mark":{"type":"text","align":"left","baseline":"middle","fontSize":13},"encoding":{"x":{"datum":0,"type":"quantitative","scale":{"domain":[0,240]},"axis":null},"text":{"field":"t"},"color":{"field":"c","type":"nominal","scale":{"domain":["n","d","u","w"],"range":["#c8cdd6","#1fb36a","#e9433e","#eef0f4"]},"legend":null}}},
   {"transform":[{"filter":"datum.k=='time'"}],"mark":{"type":"text","align":"left","baseline":"middle","fontSize":13},"encoding":{"x":{"datum":28,"type":"quantitative"},"text":{"field":"t"},"color":{"field":"c","type":"nominal","legend":null}}},
   {"transform":[{"filter":"datum.k=='price'"}],"mark":{"type":"text","align":"left","baseline":"middle","fontSize":13},"encoding":{"x":{"datum":47,"type":"quantitative"},"text":{"field":"t"},"color":{"field":"c","type":"nominal","legend":null}}},
   {"transform":[{"filter":"datum.k=='chg'"}],"mark":{"type":"text","align":"left","baseline":"middle","fontSize":13},"encoding":{"x":{"datum":81.3,"type":"quantitative"},"text":{"field":"t"},"color":{"field":"c","type":"nominal","legend":null}}},
   {"transform":[{"filter":"datum.k=='avg'"}],"mark":{"type":"text","align":"left","baseline":"middle","fontSize":13},"encoding":{"x":{"datum":112.4,"type":"quantitative"},"text":{"field":"t"},"color":{"field":"c","type":"nominal","legend":null}}},
   {"transform":[{"filter":"datum.k=='vol'"}],"mark":{"type":"text","align":"left","baseline":"middle","fontSize":13},"encoding":{"x":{"datum":146.8,"type":"quantitative"},"text":{"field":"t"},"color":{"field":"c","type":"nominal","legend":null}}},
   {"transform":[{"filter":"datum.k=='amt'"}],"mark":{"type":"text","align":"left","baseline":"middle","fontSize":13},"encoding":{"x":{"datum":176.2,"type":"quantitative"},"text":{"field":"t"},"color":{"field":"c","type":"nominal","legend":null}}}]},
  {"width":511,"height":156,"layer":[
   {"data":{"name":"p1"},"mark":{"type":"area","color":{"x1":0,"y1":0,"x2":0,"y2":1,"gradient":"linear","stops":[{"offset":0,"color":"rgba(50,130,210,0.1)"},{"offset":1,"color":"rgba(50,130,210,0.02)"}]}},"encoding":{"x":{"field":"m","type":"quantitative","scale":{"domain":[0,240]},"axis":{"values":[0,30,60,90,120,150,180,210,240],"labels":false,"ticks":false,"tickSize":0,"domain":true,"domainColor":"#8d97a9","domainWidth":1.6,"grid":true,"gridColor":"#34425c","title":null}},"y":{"field":"v","type":"quantitative","scale":{"domain":[2866.64,2917.06],"zero":false,"nice":false},"axis":{"orient":"left","minExtent":58,"maxExtent":58,"values":[2866.64,2879.25,2891.85,2904.46,2917.06],"format":".2f","title":null,"domain":false,"ticks":false,"tickSize":0,"labelPadding":10.5,"labelFlush":true,"labelFlushOffset":-1.5,"labelOverlap":false,"labelFontSize":12.5,"labelColor":{"condition":[{"test":"datum.value>2891.86","value":"#e9433e"},{"test":"datum.value<2891.84","value":"#1fb36a"}],"value":"#cdd2da"},"grid":true,"gridColor":{"condition":{"test":"abs(datum.value-2891.85)<0.01","value":"#8a8070"},"value":"#34425c"},"gridDash":{"condition":{"test":"abs(datum.value-2891.85)<0.01","value":[4,4]},"value":[]}}},"y2":{"datum":2866.64}}},
   {"data":{"name":"p1"},"mark":{"type":"line","color":"#1d9fe0","strokeWidth":1.2},"encoding":{"x":{"field":"m","type":"quantitative"},"y":{"field":"v","type":"quantitative","axis":null}}},
   {"data":{"name":"a1"},"mark":{"type":"line","color":"#bd8a55","strokeWidth":1.2},"encoding":{"x":{"field":"m","type":"quantitative"},"y":{"field":"v","type":"quantitative","axis":{"orient":"right","minExtent":50,"maxExtent":50,"values":[2866.64,2879.25,2891.85,2904.46,2917.06],"title":null,"domain":false,"ticks":false,"tickSize":0,"labelPadding":8.5,"labelFlush":true,"labelFlushOffset":-1.5,"labelOverlap":false,"labelFontSize":12.5,"grid":false,"labelExpr":"abs(datum.value-2891.85)<0.01 ? '0%' : (datum.value<2891.85?'-':'')+format(abs(datum.value-2891.85)/2891.85*100,'.2f')+'%'","labelColor":{"condition":[{"test":"datum.value>2891.86","value":"#e9433e"},{"test":"datum.value<2891.84","value":"#1fb36a"}],"value":"#cdd2da"}}}}}
  ],"resolve":{"axis":{"y":"independent"}}},
  {"width":511,"height":78,"data":{"name":"v1"},"layer":[
   {"transform":[{"filter":"datum.d=='u'"}],"mark":{"type":"bar","color":"#f0463f","width":1.1},"encoding":{"x":{"field":"m","type":"quantitative","scale":{"domain":[0,240],"padding":0,"nice":false},"axis":{"values":[0,30,60,90,120,150,180,210,240],"title":null,"domain":true,"domainColor":"#56627a","ticks":false,"tickSize":0,"labelPadding":8,"labelFlush":false,"labelOverlap":false,"labelFontSize":13,"labelColor":"#8e97a8","labelExpr":"['09:30','10:00','10:30','11:00','11:30','13:30','14:00','14:30','15:00'][round(datum.value/30)]","grid":true,"gridColor":"#34425c"}},"y":{"field":"v","type":"quantitative","scale":{"domain":[0,500],"nice":false},"axis":{"orient":"left","minExtent":58,"maxExtent":58,"values":[0,200,500],"title":null,"domain":false,"ticks":false,"tickSize":0,"labelPadding":12.5,"labelFlush":true,"labelFlushOffset":-1,"labelOverlap":false,"labelFontSize":12,"labelColor":"#8e97a8","labelExpr":"datum.value==0?'0':datum.value+'万'","grid":true,"gridColor":"#34425c","gridOpacity":{"condition":{"test":"datum.value==0||datum.value==500","value":0},"value":1}}}}},
   {"transform":[{"filter":"datum.d=='d'"}],"mark":{"type":"bar","color":"#22b86b","width":1.1},"encoding":{"x":{"field":"m","type":"quantitative"},"y":{"field":"v","type":"quantitative","axis":{"orient":"right","minExtent":50,"maxExtent":50,"values":[0,200,500],"title":null,"domain":false,"ticks":false,"tickSize":0,"labelPadding":8.5,"labelFlush":true,"labelFlushOffset":-1,"labelOverlap":false,"labelFontSize":12,"labelColor":"#8e97a8","labelExpr":"datum.value==0?'0':datum.value+'万'","grid":false}}}}
  ],"resolve":{"axis":{"y":"independent"}}}
 ],"spacing":0},
 {"width":11.5,"height":10,"data":{"name":"none"},"mark":"text","encoding":{"text":{"value":""}}},
 {"width":4,"height":284.5,"view":{"fill":"#0f1625"},"data":{"name":"none"},"mark":"text","encoding":{"text":{"value":""}}},
 {"width":7.5,"height":10,"data":{"name":"none"},"mark":"text","encoding":{"text":{"value":""}}},
 {"vconcat":[
  {"width":511,"height":26.5,"data":{"name":"i2"},"layer":[
   {"transform":[{"filter":"datum.k=='name'"}],"mark":{"type":"text","align":"left","baseline":"middle","fontSize":13},"encoding":{"x":{"datum":0,"type":"quantitative","scale":{"domain":[0,240]},"axis":null},"text":{"field":"t"},"color":{"field":"c","type":"nominal","scale":{"domain":["n","d","u","w"],"range":["#c8cdd6","#1fb36a","#e9433e","#eef0f4"]},"legend":null}}},
   {"transform":[{"filter":"datum.k=='time'"}],"mark":{"type":"text","align":"left","baseline":"middle","fontSize":13},"encoding":{"x":{"datum":28,"type":"quantitative"},"text":{"field":"t"},"color":{"field":"c","type":"nominal","legend":null}}},
   {"transform":[{"filter":"datum.k=='price'"}],"mark":{"type":"text","align":"left","baseline":"middle","fontSize":13},"encoding":{"x":{"datum":47,"type":"quantitative"},"text":{"field":"t"},"color":{"field":"c","type":"nominal","legend":null}}},
   {"transform":[{"filter":"datum.k=='chg'"}],"mark":{"type":"text","align":"left","baseline":"middle","fontSize":13},"encoding":{"x":{"datum":81.3,"type":"quantitative"},"text":{"field":"t"},"color":{"field":"c","type":"nominal","legend":null}}},
   {"transform":[{"filter":"datum.k=='avg'"}],"mark":{"type":"text","align":"left","baseline":"middle","fontSize":13},"encoding":{"x":{"datum":112.4,"type":"quantitative"},"text":{"field":"t"},"color":{"field":"c","type":"nominal","legend":null}}},
   {"transform":[{"filter":"datum.k=='vol'"}],"mark":{"type":"text","align":"left","baseline":"middle","fontSize":13},"encoding":{"x":{"datum":146.8,"type":"quantitative"},"text":{"field":"t"},"color":{"field":"c","type":"nominal","legend":null}}},
   {"transform":[{"filter":"datum.k=='amt'"}],"mark":{"type":"text","align":"left","baseline":"middle","fontSize":13},"encoding":{"x":{"datum":176.2,"type":"quantitative"},"text":{"field":"t"},"color":{"field":"c","type":"nominal","legend":null}}}]},
  {"width":511,"height":156,"layer":[
   {"data":{"name":"p2"},"mark":{"type":"area","color":{"x1":0,"y1":0,"x2":0,"y2":1,"gradient":"linear","stops":[{"offset":0,"color":"rgba(50,130,210,0.1)"},{"offset":1,"color":"rgba(50,130,210,0.02)"}]}},"encoding":{"x":{"field":"m","type":"quantitative","scale":{"domain":[0,240]},"axis":{"values":[0,30,60,90,120,150,180,210,240],"labels":false,"ticks":false,"tickSize":0,"domain":true,"domainColor":"#8d97a9","domainWidth":1.6,"grid":true,"gridColor":"#34425c","title":null}},"y":{"field":"v","type":"quantitative","scale":{"domain":[8417.38,8611.92],"zero":false,"nice":false},"axis":{"orient":"left","minExtent":58,"maxExtent":58,"values":[8417.38,8466.02,8514.65,8563.29,8611.92],"format":".2f","title":null,"domain":false,"ticks":false,"tickSize":0,"labelPadding":10.5,"labelFlush":true,"labelFlushOffset":-1.5,"labelOverlap":false,"labelFontSize":12.5,"labelColor":{"condition":[{"test":"datum.value>8514.66","value":"#e9433e"},{"test":"datum.value<8514.64","value":"#1fb36a"}],"value":"#cdd2da"},"grid":true,"gridColor":{"condition":{"test":"abs(datum.value-8514.65)<0.01","value":"#8a8070"},"value":"#34425c"},"gridDash":{"condition":{"test":"abs(datum.value-8514.65)<0.01","value":[4,4]},"value":[]}}},"y2":{"datum":8417.38}}},
   {"data":{"name":"p2"},"mark":{"type":"line","color":"#1d9fe0","strokeWidth":1.2},"encoding":{"x":{"field":"m","type":"quantitative"},"y":{"field":"v","type":"quantitative","axis":null}}},
   {"data":{"name":"a2"},"mark":{"type":"line","color":"#bd8a55","strokeWidth":1.2},"encoding":{"x":{"field":"m","type":"quantitative"},"y":{"field":"v","type":"quantitative","axis":{"orient":"right","minExtent":50,"maxExtent":50,"values":[8417.38,8466.02,8514.65,8563.29,8611.92],"title":null,"domain":false,"ticks":false,"tickSize":0,"labelPadding":8.5,"labelFlush":true,"labelFlushOffset":-1.5,"labelOverlap":false,"labelFontSize":12.5,"grid":false,"labelExpr":"abs(datum.value-8514.65)<0.01 ? '0%' : (datum.value<8514.65?'-':'')+format(abs(datum.value-8514.65)/8514.65*100,'.2f')+'%'","labelColor":{"condition":[{"test":"datum.value>8514.66","value":"#e9433e"},{"test":"datum.value<8514.64","value":"#1fb36a"}],"value":"#cdd2da"}}}}}
  ],"resolve":{"axis":{"y":"independent"}}},
  {"width":511,"height":78,"data":{"name":"v2"},"layer":[
   {"transform":[{"filter":"datum.d=='u'"}],"mark":{"type":"bar","color":"#f0463f","width":1.1},"encoding":{"x":{"field":"m","type":"quantitative","scale":{"domain":[0,240],"padding":0,"nice":false},"axis":{"values":[0,30,60,90,120,150,180,210,240],"title":null,"domain":true,"domainColor":"#56627a","ticks":false,"tickSize":0,"labelPadding":8,"labelFlush":false,"labelOverlap":false,"labelFontSize":13,"labelColor":"#8e97a8","labelExpr":"['09:30','10:00','10:30','11:00','11:30','13:30','14:00','14:30','15:00'][round(datum.value/30)]","grid":true,"gridColor":"#34425c"}},"y":{"field":"v","type":"quantitative","scale":{"domain":[0,1200],"nice":false},"axis":{"orient":"left","minExtent":58,"maxExtent":58,"values":[0,400,800,1200],"title":null,"domain":false,"ticks":false,"tickSize":0,"labelPadding":12.5,"labelFlush":true,"labelFlushOffset":-1,"labelOverlap":false,"labelFontSize":12,"labelColor":"#8e97a8","labelExpr":"datum.value==0?'0':datum.value+'万'","grid":true,"gridColor":"#34425c","gridOpacity":{"condition":{"test":"datum.value==0||datum.value==1200","value":0},"value":1}}}}},
   {"transform":[{"filter":"datum.d=='d'"}],"mark":{"type":"bar","color":"#22b86b","width":1.1},"encoding":{"x":{"field":"m","type":"quantitative"},"y":{"field":"v","type":"quantitative","axis":{"orient":"right","minExtent":50,"maxExtent":50,"values":[0,400,800,1200],"title":null,"domain":false,"ticks":false,"tickSize":0,"labelPadding":8.5,"labelFlush":true,"labelFlushOffset":-1,"labelOverlap":false,"labelFontSize":12,"labelColor":"#8e97a8","labelExpr":"datum.value==0?'0':datum.value+'万'","grid":false}}}}
  ],"resolve":{"axis":{"y":"independent"}}}
 ],"spacing":0},
 {"width":11.5,"height":10,"data":{"name":"none"},"mark":"text","encoding":{"text":{"value":""}}},
 {"width":4,"height":284.5,"view":{"fill":"#0f1625"},"data":{"name":"none"},"mark":"text","encoding":{"text":{"value":""}}},
 {"width":7.5,"height":10,"data":{"name":"none"},"mark":"text","encoding":{"text":{"value":""}}},
 {"vconcat":[
  {"width":511,"height":26.5,"data":{"name":"i3"},"layer":[
   {"transform":[{"filter":"datum.k=='name'"}],"mark":{"type":"text","align":"left","baseline":"middle","fontSize":13},"encoding":{"x":{"datum":0,"type":"quantitative","scale":{"domain":[0,240]},"axis":null},"text":{"field":"t"},"color":{"field":"c","type":"nominal","scale":{"domain":["n","d","u","w"],"range":["#c8cdd6","#1fb36a","#e9433e","#eef0f4"]},"legend":null}}},
   {"transform":[{"filter":"datum.k=='time'"}],"mark":{"type":"text","align":"left","baseline":"middle","fontSize":13},"encoding":{"x":{"datum":28,"type":"quantitative"},"text":{"field":"t"},"color":{"field":"c","type":"nominal","legend":null}}},
   {"transform":[{"filter":"datum.k=='price'"}],"mark":{"type":"text","align":"left","baseline":"middle","fontSize":13},"encoding":{"x":{"datum":47,"type":"quantitative"},"text":{"field":"t"},"color":{"field":"c","type":"nominal","legend":null}}},
   {"transform":[{"filter":"datum.k=='chg'"}],"mark":{"type":"text","align":"left","baseline":"middle","fontSize":13},"encoding":{"x":{"datum":81.3,"type":"quantitative"},"text":{"field":"t"},"color":{"field":"c","type":"nominal","legend":null}}},
   {"transform":[{"filter":"datum.k=='avg'"}],"mark":{"type":"text","align":"left","baseline":"middle","fontSize":13},"encoding":{"x":{"datum":112.4,"type":"quantitative"},"text":{"field":"t"},"color":{"field":"c","type":"nominal","legend":null}}},
   {"transform":[{"filter":"datum.k=='vol'"}],"mark":{"type":"text","align":"left","baseline":"middle","fontSize":13},"encoding":{"x":{"datum":146.8,"type":"quantitative"},"text":{"field":"t"},"color":{"field":"c","type":"nominal","legend":null}}},
   {"transform":[{"filter":"datum.k=='amt'"}],"mark":{"type":"text","align":"left","baseline":"middle","fontSize":13},"encoding":{"x":{"datum":176.2,"type":"quantitative"},"text":{"field":"t"},"color":{"field":"c","type":"nominal","legend":null}}}]},
  {"width":511,"height":156,"layer":[
   {"data":{"name":"p3"},"mark":{"type":"area","color":{"x1":0,"y1":0,"x2":0,"y2":1,"gradient":"linear","stops":[{"offset":0,"color":"rgba(50,130,210,0.1)"},{"offset":1,"color":"rgba(50,130,210,0.02)"}]}},"encoding":{"x":{"field":"m","type":"quantitative","scale":{"domain":[0,240]},"axis":{"values":[0,30,60,90,120,150,180,210,240],"labels":false,"ticks":false,"tickSize":0,"domain":true,"domainColor":"#8d97a9","domainWidth":1.6,"grid":true,"gridColor":"#34425c","title":null}},"y":{"field":"v","type":"quantitative","scale":{"domain":[1620.29,1651.05],"zero":false,"nice":false},"axis":{"orient":"left","minExtent":58,"maxExtent":58,"values":[1620.29,1627.98,1635.67,1643.36,1651.05],"format":".2f","title":null,"domain":false,"ticks":false,"tickSize":0,"labelPadding":10.5,"labelFlush":true,"labelFlushOffset":-1.5,"labelOverlap":false,"labelFontSize":12.5,"labelColor":{"condition":[{"test":"datum.value>1635.68","value":"#e9433e"},{"test":"datum.value<1635.66","value":"#1fb36a"}],"value":"#cdd2da"},"grid":true,"gridColor":{"condition":{"test":"abs(datum.value-1635.67)<0.005","value":"#8a8070"},"value":"#34425c"},"gridDash":{"condition":{"test":"abs(datum.value-1635.67)<0.005","value":[4,4]},"value":[]}}},"y2":{"datum":1620.29}}},
   {"data":{"name":"p3"},"mark":{"type":"line","color":"#1d9fe0","strokeWidth":1.2},"encoding":{"x":{"field":"m","type":"quantitative"},"y":{"field":"v","type":"quantitative","axis":null}}},
   {"data":{"name":"a3"},"mark":{"type":"line","color":"#bd8a55","strokeWidth":1.2},"encoding":{"x":{"field":"m","type":"quantitative"},"y":{"field":"v","type":"quantitative","axis":{"orient":"right","minExtent":50,"maxExtent":50,"values":[1620.29,1627.98,1635.67,1643.36,1651.05],"title":null,"domain":false,"ticks":false,"tickSize":0,"labelPadding":8.5,"labelFlush":true,"labelFlushOffset":-1.5,"labelOverlap":false,"labelFontSize":12.5,"grid":false,"labelExpr":"abs(datum.value-1635.67)<0.005 ? '0%' : (datum.value<1635.67?'-':'')+format(abs(datum.value-1635.67)/1635.67*100,'.2f')+'%'","labelColor":{"condition":[{"test":"datum.value>1635.68","value":"#e9433e"},{"test":"datum.value<1635.66","value":"#1fb36a"}],"value":"#cdd2da"}}}}}
  ],"resolve":{"axis":{"y":"independent"}}},
  {"width":511,"height":78,"data":{"name":"v3"},"layer":[
   {"transform":[{"filter":"datum.d=='u'"}],"mark":{"type":"bar","color":"#f0463f","width":1.1},"encoding":{"x":{"field":"m","type":"quantitative","scale":{"domain":[0,240],"padding":0,"nice":false},"axis":{"values":[0,30,60,90,120,150,180,210,240],"title":null,"domain":true,"domainColor":"#56627a","ticks":false,"tickSize":0,"labelPadding":8,"labelFlush":false,"labelOverlap":false,"labelFontSize":13,"labelColor":"#8e97a8","labelExpr":"['09:30','10:00','10:30','11:00','11:30','13:30','14:00','14:30','15:00'][round(datum.value/30)]","grid":true,"gridColor":"#34425c"}},"y":{"field":"v","type":"quantitative","scale":{"domain":[0,500],"nice":false},"axis":{"orient":"left","minExtent":58,"maxExtent":58,"values":[0,200,500],"title":null,"domain":false,"ticks":false,"tickSize":0,"labelPadding":12.5,"labelFlush":true,"labelFlushOffset":-1,"labelOverlap":false,"labelFontSize":12,"labelColor":"#8e97a8","labelExpr":"datum.value==0?'0':datum.value+'万'","grid":true,"gridColor":"#34425c","gridOpacity":{"condition":{"test":"datum.value==0||datum.value==500","value":0},"value":1}}}}},
   {"transform":[{"filter":"datum.d=='d'"}],"mark":{"type":"bar","color":"#22b86b","width":1.1},"encoding":{"x":{"field":"m","type":"quantitative"},"y":{"field":"v","type":"quantitative","axis":{"orient":"right","minExtent":50,"maxExtent":50,"values":[0,200,500],"title":null,"domain":false,"ticks":false,"tickSize":0,"labelPadding":8.5,"labelFlush":true,"labelFlushOffset":-1,"labelOverlap":false,"labelFontSize":12,"labelColor":"#8e97a8","labelExpr":"datum.value==0?'0':datum.value+'万'","grid":false}}}}
  ],"resolve":{"axis":{"y":"independent"}}}
 ],"spacing":0},
 {"width":11.5,"height":10,"data":{"name":"none"},"mark":"text","encoding":{"text":{"value":""}}}
],"spacing":0}
]
}
